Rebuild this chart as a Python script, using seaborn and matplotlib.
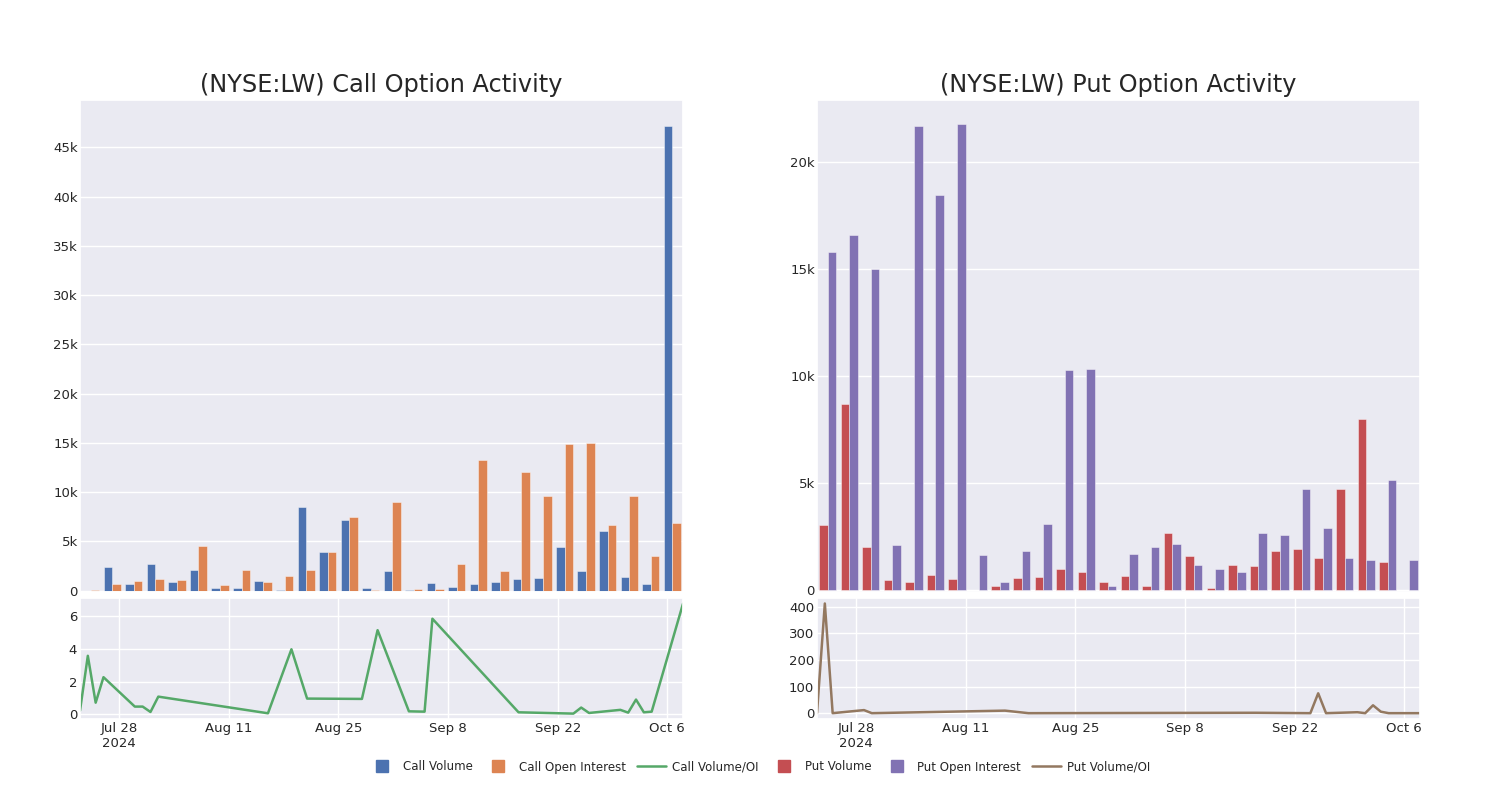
import matplotlib
matplotlib.use("Agg")
import matplotlib.pyplot as plt
from matplotlib.lines import Line2D
import numpy as np
import pandas as pd
import seaborn as sns

# ---------------- data ----------------
sessions = [f"S{i:02d}" for i in range(1, 29)]

call_volume = [10, 2360, 680, 2670, 910, 2090, 270, 300, 980, 70, 8520, 3890, 7200, 270,
               1960, 30, 810, 400, 640, 840, 1180, 1320, 4390, 1960, 6050, 1390, 680, 47200]
call_oi = [70, 640, 1010, 1150, 1050, 4490, 570, 2060, 910, 1450, 2130, 3890, 7480, 50,
           9050, 200, 140, 2700, 13250, 2030, 12080, 9630, 14880, 14950, 6620, 9600, 3510, 6900]

put_volume = [3040, 8690, 2010, 450, 390, 720, 500, 20, 170, 550, 610, 980, 840, 390,
              670, 200, 2690, 1600, 80, 1170, 1110, 1810, 1930, 1500, 4720, 7990, 1310, 20]
put_oi = [15800, 16600, 15000, 2120, 21680, 18470, 21760, 1650, 370, 1810, 3080, 10280, 10330, 190,
          1700, 2010, 2150, 1170, 980, 830, 2660, 2590, 4720, 2910, 1480, 1420, 5140, 1390]

call_ratio_dates = ["2024-07-23", "2024-07-24", "2024-07-25", "2024-07-26", "2024-07-30",
                    "2024-07-31", "2024-08-01", "2024-08-02", "2024-08-16", "2024-08-19",
                    "2024-08-21", "2024-08-28", "2024-08-30", "2024-09-03", "2024-09-05",
                    "2024-09-06", "2024-09-17", "2024-09-24", "2024-09-25", "2024-09-26",
                    "2024-09-30", "2024-10-01", "2024-10-02", "2024-10-03", "2024-10-04",
                    "2024-10-08"]
call_ratio = [0.22, 3.58, 0.71, 2.27, 0.47, 0.47, 0.14, 1.08, 0.06, 3.98, 0.96, 0.94, 5.15,
              0.18, 0.16, 5.85, 0.12, 0.04, 0.41, 0.08, 0.27, 0.10, 0.90, 0.12, 0.16, 6.77]

put_ratio_dates = ["2024-07-23", "2024-07-24", "2024-07-25", "2024-07-29", "2024-07-30",
                   "2024-08-16", "2024-08-19", "2024-09-17", "2024-09-24", "2024-09-25",
                   "2024-09-26", "2024-09-30", "2024-10-01", "2024-10-02", "2024-10-03",
                   "2024-10-04", "2024-10-08"]
put_ratio = [0.5, 412, 0.5, 12, 0.5, 10, 0.5, 2, 0.5, 75, 0.5, 4, 0.5, 30, 6, 0.5, 0.5]

date_ticks = ["2024-07-28", "2024-08-11", "2024-08-25", "2024-09-08", "2024-09-22", "2024-10-06"]
date_tick_labels = ["Jul 28\n2024", "Aug 11", "Aug 25", "Sep 8", "Sep 22", "Oct 6"]

call_yticks = [0, 5000, 10000, 15000, 20000, 25000, 30000, 35000, 40000, 45000]
put_yticks = [0, 5000, 10000, 15000, 20000]
call_ratio_ticks = [0, 2, 4, 6]
put_ratio_ticks = [0, 100, 200, 300, 400]

# ---------------- style ----------------
sns.set_theme(style="darkgrid")
plt.rcParams["font.family"] = ["DejaVu Sans"]
plt.rcParams["text.color"] = "#262626"

C_VOL, C_OI, C_RATIO = "#4C72B0", "#DD8452", "#55A868"
P_VOL, P_OI, P_RATIO = "#C44E52", "#8172B3", "#937860"

fig = plt.figure(figsize=(15, 8), dpi=100)

def kfmt(v):
    return "0" if v == 0 else f"{int(v/1000)}k"

def bar_panel(rect, vol, oi, vol_name, oi_name, colors, yticks, ylim, title):
    ax = fig.add_axes(rect)
    df = pd.DataFrame({
        "session": sessions * 2,
        "value": list(vol) + list(oi),
        "series": [vol_name] * len(sessions) + [oi_name] * len(sessions),
    })
    sns.barplot(data=df, x="session", y="value", hue="series", order=sessions,
                hue_order=[vol_name, oi_name], palette=colors, width=0.8,
                edgecolor=(1, 1, 1, 0.5), linewidth=0.6, saturation=1,
                legend=False, ax=ax, errorbar=None)
    ax.set_xlim(-0.5, len(sessions) - 0.5)
    ax.set_xticks(range(0, len(sessions), 5))
    ax.set_xticklabels([])
    ax.set_yticks(yticks)
    ax.set_yticklabels([kfmt(v) for v in yticks])
    ax.set_ylim(*ylim)
    ax.set_xlabel("")
    ax.set_ylabel("")
    ax.tick_params(axis="both", length=0, pad=1.5, labelsize=9.5, labelcolor="#262626")
    ax.set_title(title, fontsize=17.3, pad=6, color="#262626")
    return ax

def line_panel(rect, dates, vals, color, yticks, ylim):
    ax = fig.add_axes(rect)
    d = pd.to_datetime(dates)
    sns.lineplot(x=d, y=vals, color=color, linewidth=1.8, ax=ax)
    ax.set_xlim(d[0], d[-1])
    ax.set_ylim(*ylim)
    ax.set_yticks(yticks)
    ax.set_xticks(pd.to_datetime(date_ticks))
    ax.set_xticklabels(date_tick_labels)
    ax.set_xlabel("")
    ax.set_ylabel("")
    ax.tick_params(axis="both", length=0, pad=2, labelsize=9.5, labelcolor="#262626")
    return ax

L0, R0, W = 80 / 1500, 817 / 1500, 603 / 1500
bar_rect_y, bar_h = 1 - 592 / 800, (592 - 100) / 800
line_rect_y, line_h = 1 - 719 / 800, (719 - 598) / 800

bar_panel([L0, bar_rect_y, W, bar_h], call_volume, call_oi, "Call Volume", "Call Open Interest",
          [C_VOL, C_OI], call_yticks, (-130, 49800), "(NYSE:LW) Call Option Activity")
bar_panel([R0, bar_rect_y, W, bar_h], put_volume, put_oi, "Put Volume", "Put Open Interest",
          [P_VOL, P_OI], put_yticks, (-90, 22900), "(NYSE:LW) Put Option Activity")

line_panel([L0, line_rect_y, W, line_h], call_ratio_dates, call_ratio, C_RATIO,
           call_ratio_ticks, (-0.29, 7.12))
line_panel([R0, line_rect_y, W, line_h], put_ratio_dates, put_ratio, P_RATIO,
           put_ratio_ticks, (-21.4, 432.6))

handles = [
    Line2D([], [], marker="s", linestyle="none", markersize=8.5, color=C_VOL),
    Line2D([], [], marker="s", linestyle="none", markersize=8.5, color=C_OI),
    Line2D([], [], color=C_RATIO, linewidth=1.8),
    Line2D([], [], marker="s", linestyle="none", markersize=8.5, color=P_VOL),
    Line2D([], [], marker="s", linestyle="none", markersize=8.5, color=P_OI),
    Line2D([], [], color=P_RATIO, linewidth=1.8),
]
labels = ["Call Volume", "Call Open Interest", "Call Volume/OI",
          "Put Volume", "Put Open Interest", "Put Volume/OI"]
fig.legend(handles, labels, loc="center", bbox_to_anchor=(0.506, 1 - 767 / 800), ncol=6,
           frameon=False, fontsize=8.5, handlelength=2.5, handletextpad=0.5,
           columnspacing=0.9)

fig.savefig("out.png", dpi=100, facecolor="white")
